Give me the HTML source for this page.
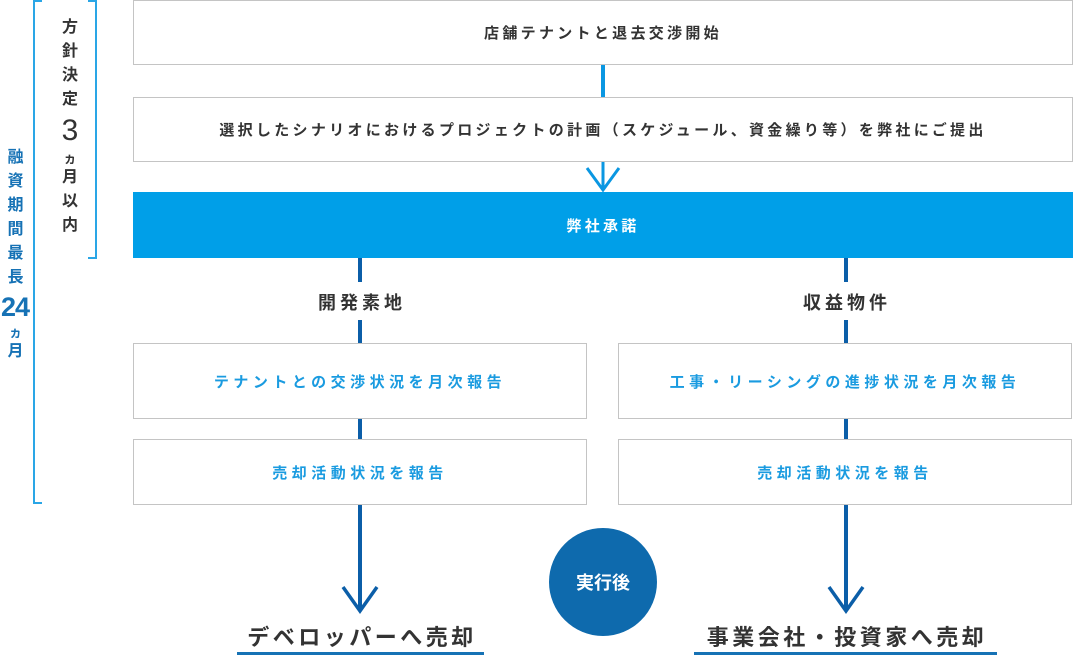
<!DOCTYPE html>
<html><head><meta charset="utf-8"><style>
body{margin:0;width:1073px;height:656px;background:#fff;position:relative;overflow:hidden;font-family:"Liberation Sans","Noto Sans CJK JP",sans-serif;}
.a{position:absolute;}
.box{position:absolute;box-sizing:border-box;border:1px solid #c4c4c4;display:flex;align-items:center;justify-content:center;font-size:15px;letter-spacing:3.3px;color:#333;font-weight:bold;}
.blue{color:#1a9be0;letter-spacing:4.5px;}
.vl{position:absolute;width:4px;background:#0b5ea8;}
.vt{position:absolute;text-align:center;font-weight:bold;line-height:1;}
</style></head><body>
<div class="a" style="left:33px;top:0;width:9px;height:504px;border:2px solid #2aa6e6;border-right:none;box-sizing:border-box"></div>
<div class="a" style="left:88px;top:0;width:9px;height:259px;border:2px solid #2aa6e6;border-left:none;box-sizing:border-box"></div>
<div class="vt" style="left:0;top:150px;width:31px;color:#1672b5;font-size:16px">
<div style="height:24px">融</div><div style="height:24px">資</div><div style="height:24px">期</div><div style="height:24px">間</div><div style="height:24px">最</div><div style="height:24px">長</div><div style="font-size:27px;height:32px;letter-spacing:-1px;margin-left:-1px">24</div><div style="font-size:13px;height:18px">ヵ</div><div style="height:20px">月</div></div>
<div class="vt" style="left:55px;top:20px;width:30px;color:#333;font-size:16px">
<div style="height:24px">方</div><div style="height:24px">針</div><div style="height:24px">決</div><div style="height:24px">定</div><div style="font-size:30px;height:36px;font-weight:normal">3</div><div style="font-size:13px;height:18px">ヵ</div><div style="height:24px">月</div><div style="height:24px">以</div><div style="height:24px">内</div></div>

<div class="box" style="left:133px;top:0;width:940px;height:65px">店舗テナントと退去交渉開始</div>
<div class="a" style="left:601px;top:65px;width:4px;height:32px;background:#0a97e2"></div>
<div class="box" style="left:133px;top:97px;width:940px;height:65px">選択したシナリオにおけるプロジェクトの計画（スケジュール、資金繰り等）を弊社にご提出</div>
<svg class="a" style="left:583px;top:160px" width="40" height="34"><polyline points="4,8 20,30 36,8" fill="none" stroke="#0a97e2" stroke-width="3"/><line x1="20" y1="2" x2="20" y2="30" stroke="#0a97e2" stroke-width="3"/></svg>
<div class="box" style="left:133px;top:192px;width:940px;height:66px;background:#009fe8;border:none;color:#fff">弊社承諾</div>

<div class="vl" style="left:358px;top:258px;height:24px"></div>
<div class="vl" style="left:844px;top:258px;height:24px"></div>
<div class="a" style="left:133px;top:289px;width:454px;text-align:center;font-size:18px;font-weight:bold;color:#333;letter-spacing:4px;text-indent:4px">開発素地</div>
<div class="a" style="left:618px;top:289px;width:454px;text-align:center;font-size:18px;font-weight:bold;color:#333;letter-spacing:4px;text-indent:4px">収益物件</div>
<div class="vl" style="left:358px;top:320px;height:23px"></div>
<div class="vl" style="left:844px;top:320px;height:23px"></div>
<div class="box blue" style="left:133px;top:343px;width:454px;height:76px">テナントとの交渉状況を月次報告</div>
<div class="box blue" style="left:618px;top:343px;width:454px;height:76px">工事・リーシングの進捗状況を月次報告</div>
<div class="vl" style="left:358px;top:419px;height:20px"></div>
<div class="vl" style="left:844px;top:419px;height:20px"></div>
<div class="box blue" style="left:133px;top:439px;width:454px;height:66px">売却活動状況を報告</div>
<div class="box blue" style="left:618px;top:439px;width:454px;height:66px">売却活動状況を報告</div>
<svg class="a" style="left:330px;top:505px" width="60" height="110"><line x1="30" y1="0" x2="30" y2="104" stroke="#0b5ea8" stroke-width="4"/><polyline points="13,82 30,106 47,82" fill="none" stroke="#0b5ea8" stroke-width="3.5"/></svg>
<svg class="a" style="left:816px;top:505px" width="60" height="110"><line x1="30" y1="0" x2="30" y2="104" stroke="#0b5ea8" stroke-width="4"/><polyline points="13,82 30,106 47,82" fill="none" stroke="#0b5ea8" stroke-width="3.5"/></svg>
<div class="a" style="left:549px;top:528px;width:108px;height:108px;border-radius:50%;background:#0e6aad;color:#fff;font-size:18px;font-weight:bold;display:flex;align-items:center;justify-content:center">実行後</div>
<div class="a" style="left:237px;top:620px;width:247px;text-align:center;font-size:22px;font-weight:bold;color:#333;letter-spacing:3.5px;text-indent:3px">デベロッパーへ売却</div>
<div class="a" style="left:237px;top:652px;width:247px;height:3px;background:#1672b5"></div>
<div class="a" style="left:694px;top:620px;width:303px;text-align:center;font-size:22px;font-weight:bold;color:#333;letter-spacing:3.5px;text-indent:3px">事業会社・投資家へ売却</div>
<div class="a" style="left:694px;top:652px;width:303px;height:3px;background:#1672b5"></div>
</body></html>
